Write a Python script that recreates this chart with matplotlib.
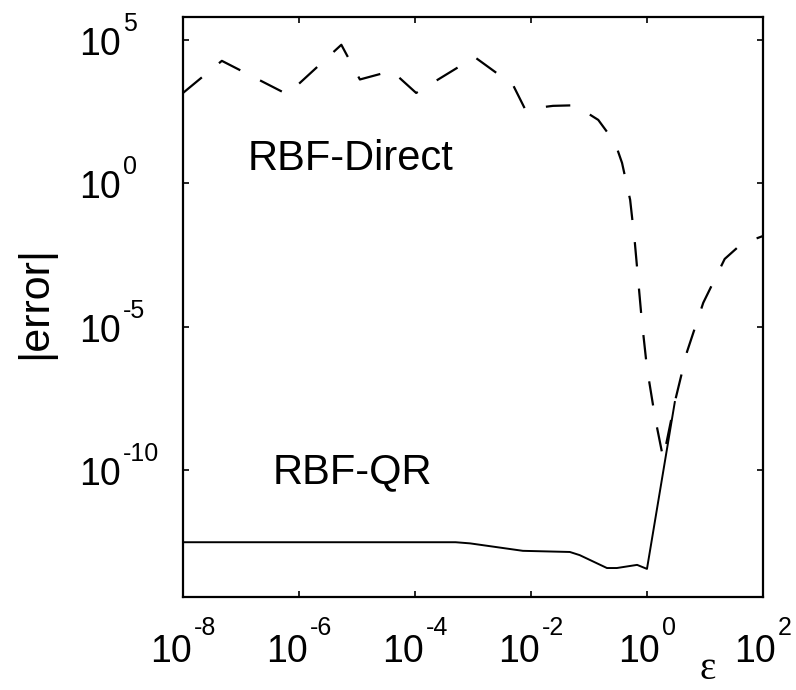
import numpy as np
import matplotlib
matplotlib.use("Agg")
import matplotlib.pyplot as plt
from matplotlib.textpath import TextToPath
from matplotlib.font_manager import FontProperties

# Shape parameter epsilon and |error| (stored as log10 values)
direct_log_eps = [-8.00, -7.33, -6.20, -5.27, -4.95, -4.40, -3.98, -2.97, -2.31,
                  -2.10, -1.62, -1.24, -0.84, -0.55, -0.43, -0.29, -0.21, -0.09,
                  0.00, 0.14, 0.28, 0.48, 0.69, 0.97, 1.34, 1.55, 1.72, 2.00]
direct_log_err = [3.15, 4.27, 3.10, 4.83, 3.62, 3.92, 3.15, 4.40, 3.43,
                  2.58, 2.70, 2.72, 2.21, 1.41, 0.71, -0.58, -2.05, -4.77,
                  -6.44, -8.18, -9.60, -7.63, -5.88, -4.17, -2.64, -2.26, -2.05, -1.84]

qr_log_eps = [-8.00, -3.30, -3.05, -2.14, -1.33, -1.16, -0.69, -0.52, -0.17, 0.00, 0.48]
qr_log_err = [-12.52, -12.52, -12.56, -12.82, -12.86, -12.97, -13.42, -13.42, -13.31, -13.45, -7.63]

x_tick_exps = [-8, -6, -4, -2, 0, 2]
y_tick_exps = [5, 0, -5, -10]

x_lim_exps = (-8, 2)
y_lim_exps = (-14.43, 5.80)

base_font = "Liberation Sans"
tick_size = 27
exp_size = 18

fig = plt.figure(figsize=(7.96, 6.90), dpi=100)
ax = fig.add_axes([0.2299, 0.1348, 0.7286, 0.8406])

ax.plot(10.0 ** np.array(direct_log_eps), 10.0 ** np.array(direct_log_err),
        color="black", lw=1.6, linestyle=(0, (11, 10)))
ax.plot(10.0 ** np.array(qr_log_eps), 10.0 ** np.array(qr_log_err),
        color="black", lw=1.4)

ax.set_xscale("log")
ax.set_yscale("log")
ax.set_xlim(10.0 ** x_lim_exps[0], 10.0 ** x_lim_exps[1])
ax.set_ylim(10.0 ** y_lim_exps[0], 10.0 ** y_lim_exps[1])

ax.set_xticks([10.0 ** e for e in x_tick_exps])
ax.set_yticks([10.0 ** e for e in y_tick_exps])
ax.xaxis.set_minor_locator(matplotlib.ticker.NullLocator())
ax.yaxis.set_minor_locator(matplotlib.ticker.NullLocator())
ax.set_xticklabels([])
ax.set_yticklabels([])
ax.tick_params(which="major", direction="in", length=4.5, width=1.2,
               top=True, right=True)
for s in ax.spines.values():
    s.set_linewidth(1.6)

# Power-of-ten tick labels built from a base and a raised exponent
t2p = TextToPath()
fp_base = FontProperties(family=base_font, size=tick_size)
fp_exp = FontProperties(family=base_font, size=exp_size)


def text_width(s, fp):
    w, h, d = t2p.get_text_width_height_descent(s, fp, ismath=False)
    return w


w10 = text_width("10", fp_base)
for e in x_tick_exps:
    es = str(e)
    we = text_width(es, fp_exp)
    total = w10 + 1.0 + we
    x0 = -total / 2
    ax.annotate("10", xy=(10.0 ** e, 0), xycoords=ax.get_xaxis_transform(),
                xytext=(x0, -46.8), textcoords="offset points",
                ha="left", va="baseline", fontproperties=fp_base, annotation_clip=False)
    ax.annotate(es, xy=(10.0 ** e, 0), xycoords=ax.get_xaxis_transform(),
                xytext=(x0 + w10 + 1.0, -27.4), textcoords="offset points",
                ha="left", va="baseline", fontproperties=fp_exp, annotation_clip=False)

for e in y_tick_exps:
    es = str(e)
    ax.annotate("10", xy=(0, 10.0 ** e), xycoords=ax.get_yaxis_transform(),
                xytext=(-74.9, -10.8), textcoords="offset points",
                ha="left", va="baseline", fontproperties=fp_base, annotation_clip=False)
    ax.annotate(es, xy=(0, 10.0 ** e), xycoords=ax.get_yaxis_transform(),
                xytext=(-74.9 + w10 + 1.5, 6.5), textcoords="offset points",
                ha="left", va="baseline", fontproperties=fp_exp, annotation_clip=False)

# Axis labels
fig.text(35 / 796, 1 - 302 / 690, "|error|", rotation=90, ha="center", va="center",
         family=base_font, fontsize=31)
fig.text(708 / 796, 11 / 690, "ε", ha="center", va="baseline",
         family="Liberation Serif", fontsize=28)

# Curve annotations
ax.text(10.0 ** -6.88, 10.0 ** 0.47, "RBF-Direct", ha="left", va="baseline",
        family=base_font, fontsize=30)
ax.text(10.0 ** -6.45, 10.0 ** -10.45, "RBF-QR", ha="left", va="baseline",
        family=base_font, fontsize=30)

fig.savefig("out.png", dpi=100)
